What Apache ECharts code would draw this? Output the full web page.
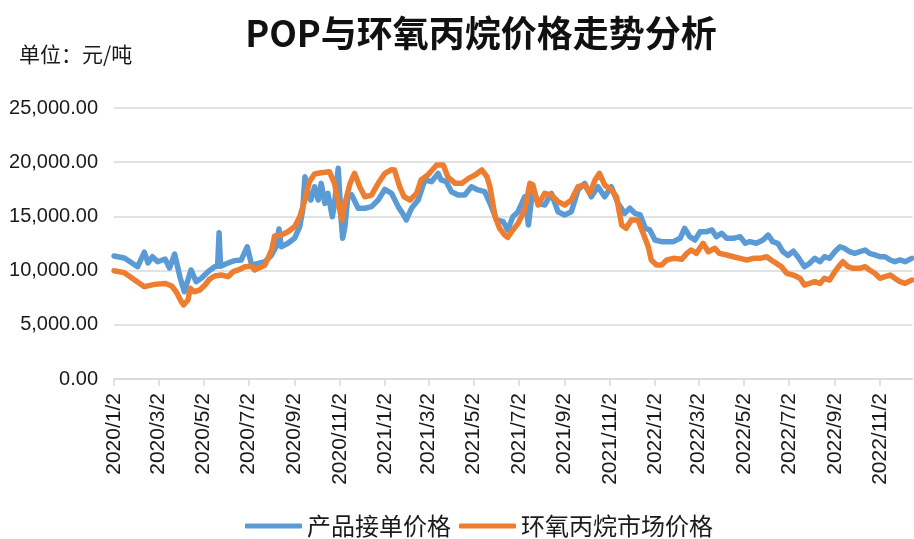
<!DOCTYPE html>
<html>
<head>
<meta charset="utf-8">
<script src="https://cdn.jsdelivr.net/npm/echarts@6/dist/echarts.min.js"></script>
<style>
  html, body { margin: 0; padding: 0; background: #fff; }
  #main { width: 914px; height: 539px; }
</style>
</head>
<body>
<div id="main"></div>
<script>
// 读图估计的数据（元/吨），日期为采样点
const startDate = '2020/1/2'
const endDate = '2022/12/16'
const yTicks = [0, 5000, 10000, 15000, 20000, 25000]

const popDates = [
  '2020/1/2', '2020/1/16', '2020/2/3', '2020/2/12', '2020/2/17', '2020/2/23', '2020/3/1', '2020/3/11',
  '2020/3/17', '2020/3/24', '2020/3/31', '2020/4/4', '2020/4/6', '2020/4/15', '2020/4/22', '2020/4/29',
  '2020/5/8', '2020/5/17', '2020/5/21', '2020/5/23', '2020/5/25', '2020/6/4', '2020/6/13', '2020/6/22',
  '2020/6/30', '2020/7/6', '2020/7/15', '2020/7/24', '2020/8/2', '2020/8/8', '2020/8/12', '2020/8/15',
  '2020/8/24', '2020/9/2', '2020/9/9', '2020/9/13', '2020/9/16', '2020/9/20', '2020/9/24', '2020/9/29',
  '2020/10/4', '2020/10/8', '2020/10/13', '2020/10/17', '2020/10/23', '2020/10/26', '2020/10/31', '2020/11/4',
  '2020/11/6', '2020/11/9', '2020/11/13', '2020/11/18', '2020/11/27', '2020/12/6', '2020/12/15', '2020/12/24',
  '2021/1/2', '2021/1/11', '2021/1/20', '2021/1/26', '2021/1/31', '2021/2/7', '2021/2/16', '2021/2/25',
  '2021/3/6', '2021/3/15', '2021/3/19', '2021/3/26', '2021/4/2', '2021/4/11', '2021/4/20', '2021/4/29',
  '2021/5/8', '2021/5/17', '2021/5/26', '2021/6/2', '2021/6/11', '2021/6/17', '2021/6/24', '2021/7/1',
  '2021/7/10', '2021/7/15', '2021/7/21', '2021/7/28', '2021/8/6', '2021/8/15', '2021/8/24', '2021/9/2',
  '2021/9/11', '2021/9/20', '2021/9/29', '2021/10/8', '2021/10/17', '2021/10/26', '2021/11/4', '2021/11/13',
  '2021/11/22', '2021/11/29', '2021/12/6', '2021/12/13', '2021/12/20', '2021/12/26', '2022/1/2', '2022/1/11',
  '2022/1/20', '2022/1/27', '2022/2/5', '2022/2/11', '2022/2/18', '2022/2/25', '2022/3/4', '2022/3/13',
  '2022/3/20', '2022/3/26', '2022/4/2', '2022/4/9', '2022/4/18', '2022/4/27', '2022/5/4', '2022/5/10',
  '2022/5/19', '2022/5/28', '2022/6/4', '2022/6/10', '2022/6/17', '2022/6/24', '2022/7/1', '2022/7/8',
  '2022/7/14', '2022/7/23', '2022/7/30', '2022/8/6', '2022/8/13', '2022/8/19', '2022/8/26', '2022/9/2',
  '2022/9/9', '2022/9/15', '2022/9/22', '2022/9/29', '2022/10/6', '2022/10/13', '2022/10/19', '2022/10/26',
  '2022/11/2', '2022/11/9', '2022/11/16', '2022/11/22', '2022/11/29', '2022/12/6', '2022/12/15'
]
const popPrice = [
  11350, 11160, 10360, 11700, 10700, 11280, 10820, 11070,
  10240, 11530, 9440, 8520, 8050, 10060, 8980, 9290,
  9900, 10360, 10400, 13500, 10400, 10700, 10920, 10980,
  12200, 10520, 10670, 10820, 11440, 12200, 13840, 12200,
  12520, 12980, 14050, 15590, 18660, 17130, 16510, 17740,
  16510, 18050, 16200, 17130, 14970, 16200, 19440, 14670,
  12980, 14050, 16810, 17000, 15750, 15750, 15900, 16510,
  17500, 17130, 15900, 15280, 14670, 15750, 16510, 18360,
  18200, 18970, 18360, 18200, 17280, 16970, 16970, 17740,
  17440, 17280, 15900, 14670, 14510, 13750, 14970, 15430,
  16810, 14210, 17590, 16200, 16050, 17130, 15430, 15130,
  15430, 17440, 18050, 16810, 17740, 16810, 17740, 16200,
  15280, 15750, 15280, 15130, 13900, 13750, 12820, 12670,
  12670, 12670, 12980, 13900, 13130, 12820, 13590, 13590,
  13750, 13130, 13440, 12980, 12980, 13130, 12520, 12670,
  12520, 12820, 13280, 12670, 12520, 11740, 11400, 11800,
  11280, 10360, 10670, 11130, 10820, 11280, 11130, 11740,
  12200, 12060, 11740, 11590, 11740, 11900, 11590, 11440,
  11280, 11280, 10980, 10820, 10980, 10820, 11130
]

const poDates = [
  '2020/1/2', '2020/1/16', '2020/1/30', '2020/2/12', '2020/2/26', '2020/3/11', '2020/3/20', '2020/3/26',
  '2020/4/2', '2020/4/5', '2020/4/11', '2020/4/14', '2020/4/19', '2020/4/27', '2020/5/4', '2020/5/10',
  '2020/5/17', '2020/5/26', '2020/6/4', '2020/6/11', '2020/6/18', '2020/6/27', '2020/7/6', '2020/7/10',
  '2020/7/24', '2020/8/2', '2020/8/6', '2020/8/15', '2020/8/24', '2020/9/2', '2020/9/9', '2020/9/16',
  '2020/9/22', '2020/9/29', '2020/10/8', '2020/10/19', '2020/10/26', '2020/11/2', '2020/11/5', '2020/11/9',
  '2020/11/16', '2020/11/22', '2020/11/29', '2020/12/6', '2020/12/15', '2020/12/24', '2021/1/2', '2021/1/11',
  '2021/1/15', '2021/1/22', '2021/1/28', '2021/2/5', '2021/2/14', '2021/2/20', '2021/3/1', '2021/3/13',
  '2021/3/22', '2021/3/28', '2021/4/7', '2021/4/16', '2021/4/25', '2021/5/4', '2021/5/13', '2021/5/20',
  '2021/5/24', '2021/5/31', '2021/6/6', '2021/6/13', '2021/6/17', '2021/6/24', '2021/7/1', '2021/7/10',
  '2021/7/17', '2021/7/21', '2021/7/28', '2021/8/6', '2021/8/15', '2021/8/24', '2021/9/2', '2021/9/11',
  '2021/9/20', '2021/9/29', '2021/10/6', '2021/10/13', '2021/10/19', '2021/10/26', '2021/11/4', '2021/11/11',
  '2021/11/18', '2021/11/24', '2021/12/1', '2021/12/10', '2021/12/17', '2021/12/24', '2021/12/28', '2022/1/4',
  '2022/1/11', '2022/1/18', '2022/1/27', '2022/2/7', '2022/2/14', '2022/2/20', '2022/2/27', '2022/3/8',
  '2022/3/15', '2022/3/24', '2022/3/30', '2022/4/9', '2022/4/18', '2022/4/27', '2022/5/6', '2022/5/15',
  '2022/5/24', '2022/6/2', '2022/6/8', '2022/6/15', '2022/6/22', '2022/6/29', '2022/7/8', '2022/7/17',
  '2022/7/23', '2022/7/30', '2022/8/6', '2022/8/13', '2022/8/19', '2022/8/26', '2022/9/2', '2022/9/9',
  '2022/9/13', '2022/9/20', '2022/9/27', '2022/10/6', '2022/10/13', '2022/10/19', '2022/10/26', '2022/11/2',
  '2022/11/9', '2022/11/16', '2022/11/22', '2022/11/29', '2022/12/6', '2022/12/15'
]
const poPrice = [
  9990, 9810, 9130, 8520, 8730, 8820, 8580, 8050,
  7130, 6830, 7290, 8370, 8050, 8210, 8670, 9200,
  9500, 9590, 9440, 9900, 10060, 10360, 10400, 10060,
  10520, 11900, 13190, 13280, 13590, 14050, 14970, 16510,
  18200, 18910, 19030, 19120, 18050, 15590, 14670, 16200,
  18050, 18970, 17740, 16810, 16970, 18050, 18970, 19300,
  19280, 17740, 16810, 16510, 17130, 18360, 18820, 19740,
  19740, 18660, 18050, 18050, 18510, 18820, 19280, 18660,
  17740, 14970, 13900, 13280, 13060, 13750, 14360, 15590,
  18050, 17900, 16050, 17130, 16970, 16360, 16050, 16510,
  17740, 17900, 17130, 18360, 18970, 17900, 17440, 16810,
  14210, 13900, 14670, 14670, 13440, 12200, 10980, 10520,
  10520, 10980, 11130, 11040, 11590, 11900, 11590, 12520,
  11740, 12060, 11590, 11440, 11280, 11130, 10980, 11130,
  11130, 11280, 10980, 10670, 10360, 9750, 9590, 9290,
  8670, 8820, 8980, 8820, 9290, 9130, 9900, 10520,
  10820, 10360, 10210, 10210, 10360, 10060, 9750, 9290,
  9440, 9590, 9290, 8980, 8820, 9130
]

// 逐日类目轴
function fmtDate (t) {
  const d = new Date(t)
  return d.getUTCFullYear() + '/' + (d.getUTCMonth() + 1) + '/' + d.getUTCDate()
}
function parseDate (s) {
  const p = s.split('/').map(Number)
  return Date.UTC(p[0], p[1] - 1, p[2])
}
const days = []
for (let t = parseDate(startDate); t <= parseDate(endDate); t += 86400000) {
  days.push(fmtDate(t))
}
function toSeries (dates, values) {
  const arr = days.map(() => null)
  dates.forEach((d, i) => { arr[days.indexOf(d)] = values[i] })
  return arr
}
// 每两个月的2号显示标签
function showLabel (index, value) {
  const p = value.split('/')
  return p[2] === '2' && Number(p[1]) % 2 === 1
}
function fmtNum (v) {
  return v.toFixed(2).replace(/\B(?=(\d{3})+(?!\d))/g, ',')
}

const chart = echarts.init(document.getElementById('main'))
const textColor = '#1a1a1a'
const latin = '"Liberation Sans", Arial, sans-serif'
const cjk = '"Noto Sans CJK SC", sans-serif'

const option = {
  animation: false,
  backgroundColor: '#fff',
  title: [
    {
      text: 'POP与环氧丙烷价格走势分析',
      left: 476,
      textAlign: 'center',
      top: 10,
      textStyle: { fontSize: 36, fontWeight: 'bold', color: '#111', fontFamily: cjk }
    },
    {
      text: '单位：元/吨',
      left: 14,
      top: 39,
      textStyle: { fontSize: 21, fontWeight: 'normal', color: textColor, fontFamily: cjk }
    }
  ],
  legend: {
    left: 240,
    top: 509,
    icon: 'roundRect',
    itemWidth: 57,
    itemHeight: 5,
    itemGap: 8,
    textStyle: { fontSize: 24, color: textColor, fontFamily: cjk }
  },
  grid: {
    left: 114,
    right: 1.5,
    top: 108,
    bottom: 160,
    containLabel: false,
    outerBoundsMode: 'none'
  },
  xAxis: {
    type: 'category',
    data: days,
    boundaryGap: false,
    axisLine: { lineStyle: { color: '#d9d9d9', width: 1.5 } },
    axisTick: { show: true, interval: showLabel, length: 7, lineStyle: { color: '#d9d9d9', width: 1.5 } },
    axisLabel: {
      interval: showLabel,
      rotate: 90,
      margin: 14,
      fontSize: 21,
      color: textColor,
      fontFamily: latin
    },
    splitLine: { show: false }
  },
  yAxis: {
    type: 'value',
    min: yTicks[0],
    max: yTicks[yTicks.length - 1],
    interval: yTicks[1] - yTicks[0],
    axisLine: { show: false },
    axisTick: { show: false },
    axisLabel: {
      margin: 16,
      fontSize: 20,
      color: textColor,
      fontFamily: latin,
      formatter: fmtNum
    },
    splitLine: { lineStyle: { color: '#d9d9d9', width: 1.5 } }
  },
  series: [
    {
      name: '产品接单价格',
      type: 'line',
      data: toSeries(popDates, popPrice),
      connectNulls: true,
      showSymbol: false,
      color: '#5b9bd5',
      lineStyle: { width: 5.5, color: '#5b9bd5', cap: 'round', join: 'round' }
    },
    {
      name: '环氧丙烷市场价格',
      type: 'line',
      data: toSeries(poDates, poPrice),
      connectNulls: true,
      showSymbol: false,
      color: '#ed7d31',
      lineStyle: { width: 5.5, color: '#ed7d31', cap: 'round', join: 'round' }
    }
  ]
}

chart.setOption(option)
</script>
</body>
</html>
